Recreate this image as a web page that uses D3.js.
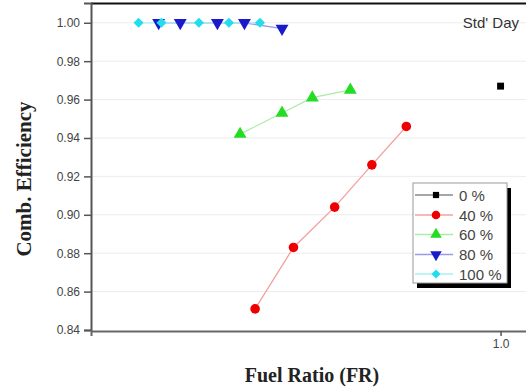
<!DOCTYPE html>
<html><head><meta charset="utf-8">
<script src="https://cdn.jsdelivr.net/npm/d3@7"></script>
<style>body{margin:0;background:#fff}svg{display:block}</style>
</head><body>
<svg id="c" width="526" height="389"></svg>
<script>
// Data
const seriesNames = ["0 %", "40 %", "60 %", "80 %", "100 %"];
const fr0 = [1.0];
const eff0 = [0.967];
const fr40 = [0.486, 0.544, 0.614, 0.685, 0.758];
const eff40 = [0.851, 0.883, 0.904, 0.926, 0.946];
const fr60 = [0.465, 0.526, 0.575, 0.643];
const eff60 = [0.942, 0.953, 0.961, 0.965];
const fr80 = [0.366, 0.390, 0.435, 0.471, 0.526];
const eff80 = [1.000, 1.000, 1.000, 1.000, 0.997];
const fr100 = [0.345, 0.369, 0.412, 0.450, 0.493];
const eff100 = [1.000, 1.000, 1.000, 1.000, 1.000];
const yTicks = [0.84, 0.86, 0.88, 0.90, 0.92, 0.94, 0.96, 0.98, 1.00];
const xTicks = [1.0];

const series = [
  {name: seriesNames[0], x: fr0, y: eff0, color: "#000000", line: "#888888", sym: d3.symbolSquare, size: 48, rot: 0},
  {name: seriesNames[1], x: fr40, y: eff40, color: "#ee0000", line: "#f4a0a0", sym: d3.symbolCircle, size: 72, rot: 0},
  {name: seriesNames[2], x: fr60, y: eff60, color: "#22dd22", line: "#a6eea6", sym: d3.symbolTriangle, size: 72, rot: 0},
  {name: seriesNames[3], x: fr80, y: eff80, color: "#1a1acc", line: "#9a9ae6", sym: d3.symbolTriangle, size: 72, rot: 180},
  {name: seriesNames[4], x: fr100, y: eff100, color: "#22ddee", line: "#a8f0f6", sym: d3.symbolSquare, size: 50, rot: 45}
];

const svg = d3.select("#c");
const L = 91, R = 533, T = 3, B = 330;
const x = d3.scaleLog().domain([0.3, 1.1]).range([L, R]);
const y = d3.scaleLinear().domain([0.84, 1.0103]).range([B, T]);

// grid
svg.append("g").selectAll("line").data(yTicks.slice(1)).join("line")
  .attr("x1", L).attr("x2", R).attr("y1", d => y(d)).attr("y2", d => y(d))
  .attr("stroke", "#ececec").attr("stroke-width", 1);

// top border
svg.append("line").attr("x1", L).attr("x2", R).attr("y1", T + 0.5).attr("y2", T + 0.5)
  .attr("stroke", "#111").attr("stroke-width", 2);

// y axis
const yAxis = d3.axisLeft(y).tickValues(yTicks).tickFormat(d3.format(".2f")).tickSize(7).tickPadding(4);
const gy = svg.append("g").attr("transform", `translate(${L},0)`).call(yAxis);
gy.select(".domain").attr("stroke", "#555").attr("stroke-width", 2);
gy.selectAll(".tick line").attr("stroke", "#555").attr("stroke-width", 1.5);
gy.selectAll("text").attr("font-family", "Liberation Sans, Arial, sans-serif").attr("font-size", 12).attr("fill", "#444");

// x axis
const xAxis = d3.axisBottom(x).tickValues(xTicks).tickFormat(d3.format(".1f")).tickSize(5).tickPadding(3);
const gx = svg.append("g").attr("transform", `translate(0,${B + 1})`).call(xAxis);
gx.select(".domain").attr("stroke", "#666").attr("stroke-width", 2);
gx.selectAll(".tick line").attr("stroke", "#555").attr("stroke-width", 1.5);
gx.selectAll("text").attr("font-family", "Liberation Sans, Arial, sans-serif").attr("font-size", 12).attr("fill", "#444");

// titles
svg.append("text").attr("x", 312).attr("y", 382).attr("text-anchor", "middle")
  .attr("font-family", "Liberation Serif, Times New Roman, serif").attr("font-weight", "bold")
  .attr("font-size", 20).attr("fill", "#222").text("Fuel Ratio (FR)");
svg.append("text").attr("transform", "translate(31,179) rotate(-90)").attr("text-anchor", "middle")
  .attr("font-family", "Liberation Serif, Times New Roman, serif").attr("font-weight", "bold")
  .attr("font-size", 21).attr("fill", "#222").text("Comb. Efficiency");
svg.append("text").attr("x", 519).attr("y", 28).attr("text-anchor", "end")
  .attr("font-family", "Liberation Sans, Arial, sans-serif").attr("font-size", 15).attr("fill", "#333")
  .text("Std' Day");

// lines and markers
const line = d3.line().x(d => x(d[0])).y(d => y(d[1]));
series.forEach(s => {
  const pts = s.x.map((v, i) => [v, s.y[i]]);
  svg.append("path").datum(pts).attr("d", line).attr("fill", "none")
    .attr("stroke", s.line).attr("stroke-width", 1.3);
});
series.forEach(s => {
  const pts = s.x.map((v, i) => [v, s.y[i]]);
  svg.append("g").selectAll("path").data(pts).join("path")
    .attr("d", d3.symbol().type(s.sym).size(s.size))
    .attr("transform", d => `translate(${x(d[0])},${y(d[1])}) rotate(${s.rot})`)
    .attr("fill", s.color);
});

// legend
const lx = 413, ly = 183, lw = 94, lh = 100;
svg.append("rect").attr("x", lx + 4).attr("y", ly + 5).attr("width", lw).attr("height", lh).attr("fill", "#000");
svg.append("rect").attr("x", lx).attr("y", ly).attr("width", lw).attr("height", lh)
  .attr("fill", "#fff").attr("stroke", "#999").attr("stroke-width", 1);
const itemY = [195, 215, 234.5, 254.5, 274];
series.forEach((s, i) => {
  const g = svg.append("g").attr("transform", `translate(0,${itemY[i]})`);
  g.append("line").attr("x1", 415).attr("x2", 453).attr("y1", 0).attr("y2", 0)
    .attr("stroke", s.line).attr("stroke-width", 1.3);
  g.append("path").attr("d", d3.symbol().type(s.sym).size(s.size * 0.8))
    .attr("transform", `translate(436,0) rotate(${s.rot})`).attr("fill", s.color);
  g.append("text").attr("x", 459).attr("y", 5.5).attr("font-family", "Liberation Sans, Arial, sans-serif")
    .attr("font-size", 15).attr("fill", "#444").text(s.name);
});
</script>
</body></html>
